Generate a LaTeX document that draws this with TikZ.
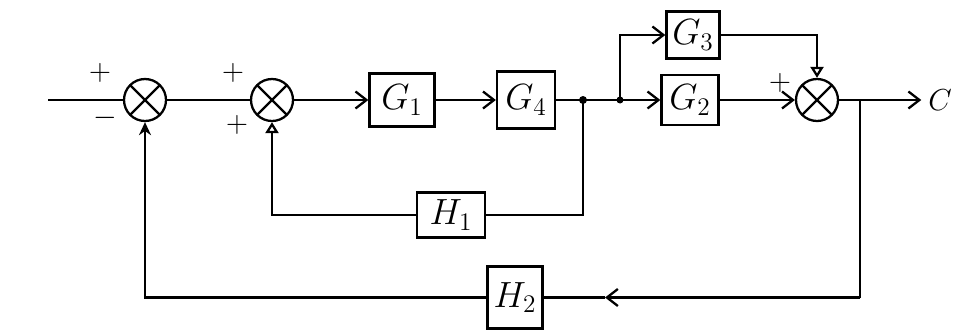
\documentclass[tikz,border=0pt]{standalone}
\usetikzlibrary{arrows.meta}
\begin{document}
\begin{tikzpicture}[line width=1.3pt,
		blk/.style = {draw, minimum width=1.2cm, minimum height=1cm, font=\huge},
		sum/.style = {draw, circle, minimum size=0.84cm, path picture={
			\draw (path picture bounding box.north west) -- (path picture bounding box.south east)
			      (path picture bounding box.north east) -- (path picture bounding box.south west);}},
		sgn/.style = {font=\LARGE},
		>={Straight Barb[length=2.2mm, width=3.4mm]}]
		\useasboundingbox (0,0) rectangle (19.06,-6.58);
		% forward path
		\coordinate (in) at (0.96,-2.0);
		\node[sum] (s1) at (2.9,-2.0) {};
		\node[sum] (s2) at (5.44,-2.0) {};
		\node[blk, minimum width=1.3cm, minimum height=1.06cm] (g1) at (8.04,-2.0) {$G_1$};
		\node[blk, minimum width=1.16cm, minimum height=1.14cm] (g4) at (10.52,-2.0) {$G_4$};
		\coordinate (j1) at (11.66,-2.0);
		\coordinate (j2) at (12.4,-2.0);
		\node[blk, minimum width=1.06cm, minimum height=0.94cm] (g3) at (13.86,-0.7) {$G_3$};
		\node[blk, minimum width=1.14cm] (g2) at (13.8,-2.0) {$G_2$};
		\node[sum] (s3) at (16.34,-2.0) {};
		\coordinate (b) at (17.2,-2.0);
		\node[font=\LARGE] (c) at (18.8,-2.0) {$C$};
		% feedback blocks
		\node[blk, minimum width=1.36cm, minimum height=0.9cm] (h1) at (9.02,-4.3) {$H_1$};
		\node[blk, minimum width=1.1cm, minimum height=1.24cm] (h2) at (10.3,-5.95) {$H_2$};
		\coordinate (bc) at (17.2,-5.95);
		\coordinate (m) at (12.1,-5.95);
		% signs
		\node[sgn] (p1) at (2.0,-1.46) {$+$};
		\node[sgn] (m1) at (2.1,-2.35) {$-$};
		\node[sgn] (p2) at (4.66,-1.45) {$+$};
		\node[sgn] (p3) at (4.74,-2.5) {$+$};
		\node[sgn] (p4) at (15.6,-1.65) {$+$};
		% connectors
		\draw (in) -- (s1);
		\draw (s1) -- (s2);
		\draw[->] (s2) -- (g1);
		\draw[->] (g1) -- (g4);
		\draw (g4) -- (j2);
		\draw[->] (j2) |- (g3);
		\draw[->] (j2) -- (g2);
		\draw[->] (g2) -- (s3);
		\draw[-{Triangle[open, length=2.2mm, width=2.6mm]}] (g3) -| (s3);
		\draw[->] (s3) -- (c);
		\draw (j1) |- (h1);
		\draw[-{Triangle[open, length=2.2mm, width=2.6mm]}] (h1) -| (s2);
		\draw (b) -- (bc);
		\draw[->] (bc) -- (m);
		\draw (m) -- (h2);
		\draw[-{Stealth[length=2.6mm, width=2.4mm]}] (h2) -| (s1);
		\fill (j1) circle (0.08);
		\fill (j2) circle (0.07);
	\end{tikzpicture}
\end{document}
